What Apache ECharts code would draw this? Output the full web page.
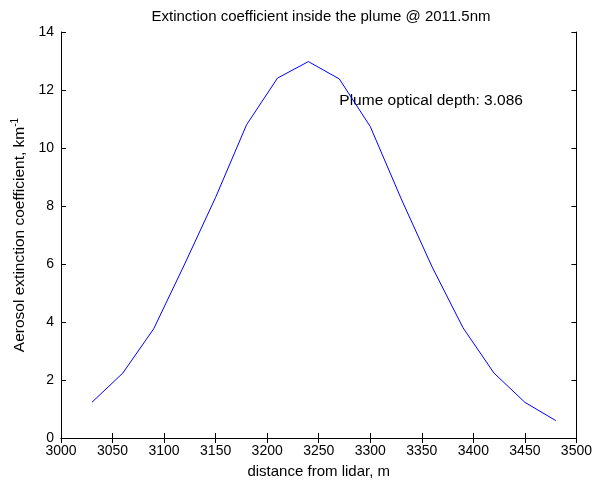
<!DOCTYPE html>
<html>
<head>
<meta charset="utf-8">
<script src="https://cdn.jsdelivr.net/npm/echarts@6/dist/echarts.min.js"></script>
<style>html,body{margin:0;padding:0;background:#fff;}#c{width:595px;height:484px;}</style>
</head>
<body>
<div id="c"></div>
<script>
var distances = [3030, 3060, 3090, 3120, 3150, 3180, 3210, 3240, 3270, 3300, 3330, 3360, 3390, 3420, 3450, 3480];
var extinction = [1.23, 2.24, 3.77, 6.0, 8.3, 10.8, 12.41, 12.98, 12.38, 10.74, 8.25, 5.9, 3.8, 2.24, 1.23, 0.6];
var xTicks = [3000, 3050, 3100, 3150, 3200, 3250, 3300, 3350, 3400, 3450, 3500];
var yTicks = [0, 2, 4, 6, 8, 10, 12, 14];
var annotation = {x: 3270, y: 11.62, text: 'Plume optical depth: 3.086'};
var titleText = 'Extinction coefficient inside the plume @ 2011.5nm';
var xName = 'distance from lidar, m';
var yName = 'Aerosol extinction coefficient, km';

var font = 'Arial, "Liberation Sans", Helvetica, sans-serif';
var chart = echarts.init(document.getElementById('c'), null, {renderer: 'canvas'});
var pts = distances.map(function (d, i) { return [d, extinction[i]]; });
function plain(v) { return String(v); }
var axisCommon = {
  axisLine: {show: true, lineStyle: {color: '#000', width: 1}},
  axisTick: {show: true, inside: true, length: 5, lineStyle: {color: '#000'}},
  splitLine: {show: false}
};
chart.setOption({
  animation: false,
  backgroundColor: '#fff',
  title: {
    text: titleText, left: 316, textAlign: 'center', top: 4,
    textStyle: {fontFamily: font, fontSize: 15, fontWeight: 'normal', color: '#000'}
  },
  grid: {left: 61, right: 16, top: 32, bottom: 45, containLabel: false},
  xAxis: [
    Object.assign({
      type: 'value', min: xTicks[0], max: xTicks[xTicks.length - 1], interval: xTicks[1] - xTicks[0],
      position: 'bottom',
      name: xName, nameLocation: 'middle', nameGap: 26,
      nameTextStyle: {fontFamily: font, fontSize: 15, color: '#000'},
      axisLabel: {fontFamily: font, fontSize: 14, color: '#000', margin: 6, formatter: plain}
    }, axisCommon),
    Object.assign({
      type: 'value', min: xTicks[0], max: xTicks[xTicks.length - 1], interval: xTicks[1] - xTicks[0],
      position: 'top', axisLabel: {show: false}
    }, axisCommon)
  ],
  yAxis: [
    Object.assign({
      type: 'value', min: yTicks[0], max: yTicks[yTicks.length - 1], interval: yTicks[1] - yTicks[0],
      position: 'left',
      name: yName + '{sup|-1}', nameLocation: 'middle', nameGap: 31,
      nameTextStyle: {fontFamily: font, fontSize: 15.5, color: '#000',
        rich: {sup: {fontFamily: font, fontSize: 10, color: '#000', padding: [0, 0, 8, 0]}}},
      axisLabel: {fontFamily: font, fontSize: 14, color: '#000', margin: 7, formatter: plain}
    }, axisCommon),
    Object.assign({
      type: 'value', min: yTicks[0], max: yTicks[yTicks.length - 1], interval: yTicks[1] - yTicks[0],
      position: 'right', axisLabel: {show: false}
    }, axisCommon)
  ],
  series: [
    {
      type: 'line', data: pts, xAxisIndex: 0, yAxisIndex: 0,
      showSymbol: false, symbol: 'none',
      lineStyle: {color: '#0000ff', width: 1}
    },
    {
      type: 'scatter', data: [[annotation.x, annotation.y]], xAxisIndex: 0, yAxisIndex: 0,
      symbolSize: 0, silent: true,
      label: {show: true, position: 'right', distance: 0, formatter: annotation.text,
        fontFamily: font, fontSize: 15.5, color: '#000', opacity: 1}
    }
  ]
});
</script>
</body>
</html>
